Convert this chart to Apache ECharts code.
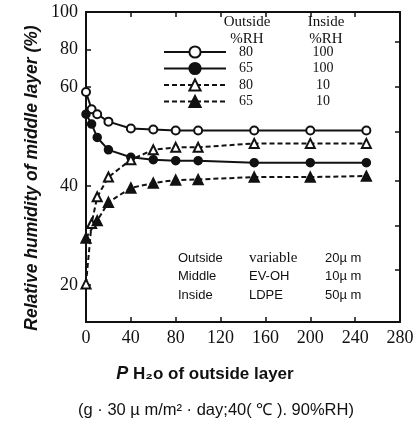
<!DOCTYPE html>
<html>
<head>
<meta charset="utf-8">
<script src="https://cdn.jsdelivr.net/npm/echarts@6/dist/echarts.min.js"></script>
<style>
  html, body { margin: 0; padding: 0; background: #fff; }
  #chart { width: 419px; height: 430px; }
</style>
</head>
<body>
<div id="chart"></div>
<script>
// Water vapour permeability of the outside layer (x) vs RH of the middle layer (y)
const permeability = [0, 5, 10, 20, 40, 60, 80, 100, 150, 200, 250];

// Outside %RH / Inside %RH conditions
const out80in100 = [59, 55.5, 54.5, 53, 51.6, 51.4, 51.2, 51.2, 51.2, 51.2, 51.2];
const out65in100 = [54.5, 52.5, 49.8, 47.3, 45.8, 45.3, 45.1, 45.1, 44.7, 44.7, 44.7];
const out80in10  = [20.2, 32.4, 37.8, 41.8, 45.3, 47.3, 47.8, 47.8, 48.6, 48.6, 48.6];
const out65in10  = [29.5, null, 33, 36.7, 39.6, 40.6, 41.2, 41.3, 41.8, 41.8, 42];

const outsideRH = ['80', '65', '80', '65'];
const insideRH  = ['100', '100', '10', '10'];

const xTicks = [0, 40, 80, 120, 160, 200, 240, 280];
const yTicksLower = [20, 40, 60];
const yTicksUpper = [80, 100];

const layers = [
  ['Outside', 'variable', '20\u00b5 m'],
  ['Middle', 'EV-OH', '10\u00b5 m'],
  ['Inside', 'LDPE', '50\u00b5 m']
];

const INK = '#111';
const SERIF = '"Liberation Serif", "DejaVu Serif", serif';
const SANS = '"Liberation Sans", Arial, sans-serif';

function pairs(ys) {
  return ys.map((y, i) => [permeability[i], y]);
}

const seriesDefs = [
  { data: out80in100, symbol: 'emptyCircle', dashed: false, size: 8 },
  { data: out65in100, symbol: 'circle', dashed: false, size: 8 },
  { data: out80in10, symbol: 'emptyTriangle', dashed: true, size: 9 },
  { data: out65in10, symbol: 'triangle', dashed: true, size: 10 }
];

const names = outsideRH.map((o, i) => o + '|' + insideRH[i]);

const chart = echarts.init(document.getElementById('chart'), null, { renderer: 'canvas' });

const frameLine = { show: true, lineStyle: { color: INK, width: 2 } };
const innerTick = (vals) => ({ show: true, inside: true, length: 5, lineStyle: { color: INK, width: 1.5 }, customValues: vals });

const option = {
  backgroundColor: '#fff',
  animation: false,
  grid: [
    { left: 86, right: 19, top: 12, height: 75 },
    { left: 86, right: 19, top: 87, bottom: 108 }
  ],
  xAxis: [
    {
      gridIndex: 0, type: 'value', position: 'top', min: 0, max: 280,
      axisLine: frameLine, axisTick: innerTick([40, 80, 120, 160, 200, 240]),
      axisLabel: { show: false }, splitLine: { show: false }
    },
    {
      gridIndex: 1, type: 'value', position: 'bottom', min: 0, max: 280,
      axisLine: frameLine, axisTick: innerTick([40, 80, 120, 160, 200, 240]),
      axisLabel: {
        customValues: xTicks, margin: 7, color: INK,
        fontFamily: SERIF, fontSize: 18
      },
      splitLine: { show: false },
      name: '{p|P} H\u2082o of outside layer',
      nameLocation: 'middle', nameGap: 43,
      nameTextStyle: {
        color: INK, fontFamily: SANS, fontWeight: 'bold', fontSize: 17,
        padding: [0, 76, 0, 0],
        rich: { p: { fontFamily: SANS, fontStyle: 'italic', fontWeight: 'bold', fontSize: 18, color: INK } }
      }
    }
  ],
  yAxis: [
    {
      gridIndex: 0, type: 'value', position: 'left', min: 60, max: 100,
      axisLine: frameLine, axisTick: innerTick(yTicksUpper),
      axisLabel: { customValues: yTicksUpper, margin: 8, color: INK, fontFamily: SERIF, fontSize: 18 },
      splitLine: { show: false }
    },
    {
      gridIndex: 1, type: 'value', position: 'left', min: 12.5, max: 60,
      axisLine: frameLine, axisTick: innerTick(yTicksLower),
      axisLabel: { customValues: yTicksLower, margin: 8, color: INK, fontFamily: SERIF, fontSize: 18 },
      splitLine: { show: false }
    },
    {
      gridIndex: 0, type: 'value', position: 'right', min: 60, max: 100,
      axisLine: frameLine, axisTick: innerTick([84]),
      axisLabel: { show: false }, splitLine: { show: false }
    },
    {
      gridIndex: 1, type: 'value', position: 'right', min: 12.5, max: 60,
      axisLine: frameLine, axisTick: innerTick([23, 32, 41, 51, 60]),
      axisLabel: { show: false }, splitLine: { show: false }
    }
  ],
  legend: {
    orient: 'vertical',
    left: 163, top: 45,
    itemWidth: 62, itemHeight: 14, itemGap: 2.5,
    padding: 0,
    data: names,
    formatter: (n) => {
      const [o, i] = n.split('|');
      return '{a|' + o + '}{b|' + i + '}';
    },
    textStyle: {
      color: INK,
      rich: {
        a: { width: 30, align: 'center', fontFamily: SERIF, fontSize: 14, color: INK },
        b: { width: 124, align: 'center', fontFamily: SERIF, fontSize: 14, color: INK }
      }
    }
  },
  series: seriesDefs.map((s, i) => ({
    name: names[i],
    type: 'line',
    xAxisIndex: 1,
    yAxisIndex: 1,
    data: pairs(s.data),
    connectNulls: true,
    symbol: s.symbol,
    symbolSize: s.size,
    showAllSymbol: true,
    itemStyle: { color: INK, borderColor: INK, borderWidth: 1.5 },
    lineStyle: { color: INK, width: 2, type: s.dashed ? [5, 3] : 'solid' },
    emphasis: { disabled: true }
  })),
  graphic: [
    {
      type: 'text', x: 32, y: 178, rotation: Math.PI / 2,
      style: {
        text: 'Relative humidity of middle layer (%)',
        font: 'italic bold 17.5px ' + SANS, fill: INK,
        textAlign: 'center', textVerticalAlign: 'middle'
      }
    },
    { type: 'text', x: 247, y: 22, style: { text: 'Outside', font: '15px ' + SERIF, fill: INK, textAlign: 'center', textVerticalAlign: 'middle' } },
    { type: 'text', x: 247, y: 39, style: { text: '%RH', font: '15px ' + SERIF, fill: INK, textAlign: 'center', textVerticalAlign: 'middle' } },
    { type: 'text', x: 326, y: 22, style: { text: 'Inside', font: '15px ' + SERIF, fill: INK, textAlign: 'center', textVerticalAlign: 'middle' } },
    { type: 'text', x: 326, y: 39, style: { text: '%RH', font: '15px ' + SERIF, fill: INK, textAlign: 'center', textVerticalAlign: 'middle' } },
    {
      type: 'text', x: 216, y: 410,
      style: {
        text: '(g \u00b7 30 \u00b5 m/m\u00b2 \u00b7 day;40( \u2103 ). 90%RH)',
        font: '16.5px ' + SANS, fill: INK, textAlign: 'center', textVerticalAlign: 'middle'
      }
    }
  ].concat(layers.flatMap((row, r) => [
    { type: 'text', x: 178, y: 258 + r * 18.5, style: { text: row[0], font: '13px ' + SANS, fill: INK, textVerticalAlign: 'middle' } },
    { type: 'text', x: 249, y: 258 + r * 18.5, style: { text: row[1], font: (r === 0 ? '15px ' + SERIF : '13px ' + SANS), fill: INK, textVerticalAlign: 'middle' } },
    { type: 'text', x: 325, y: 258 + r * 18.5, style: { text: row[2], font: '13px ' + SANS, fill: INK, textVerticalAlign: 'middle' } }
  ]))
};

chart.setOption(option);
</script>
</body>
</html>
